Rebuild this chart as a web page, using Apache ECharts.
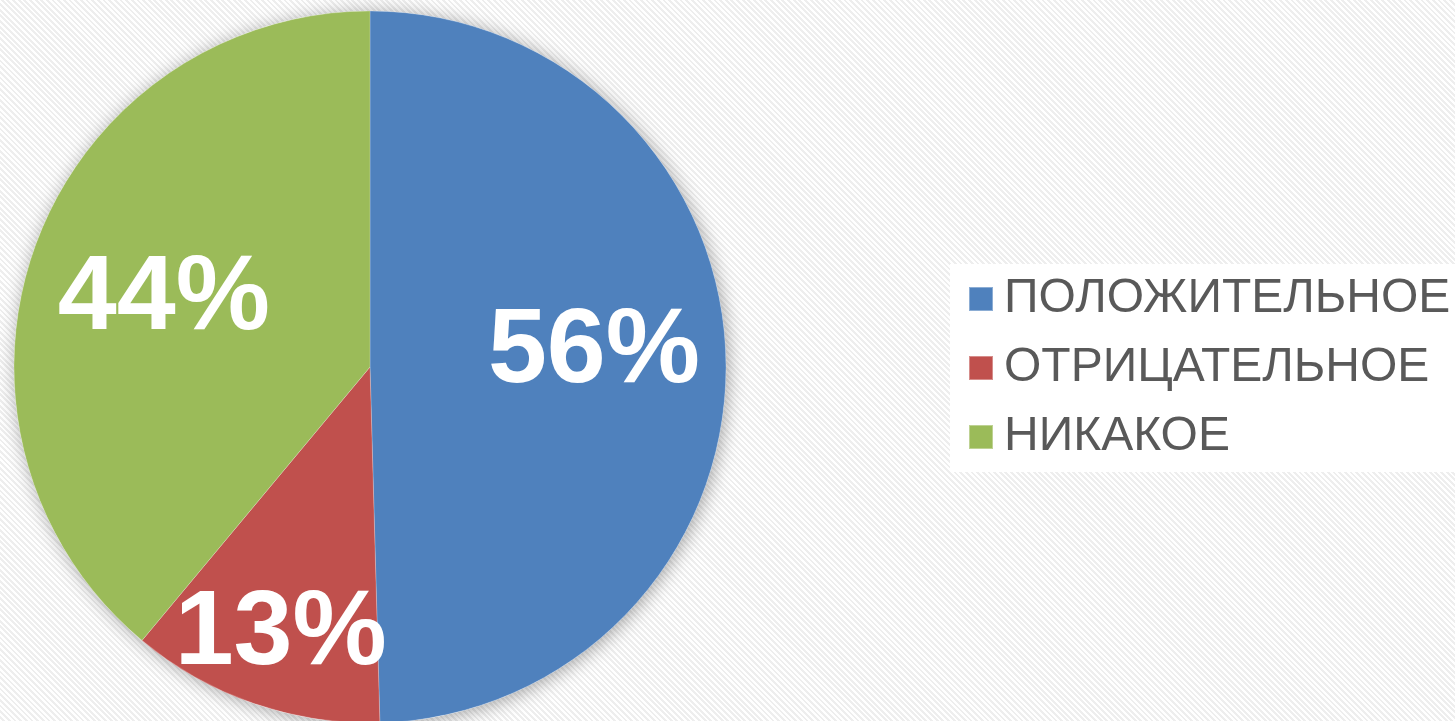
<!DOCTYPE html>
<html>
<head>
<meta charset="utf-8">
<script src="https://cdn.jsdelivr.net/npm/echarts@6/dist/echarts.min.js"></script>
<style>
  html, body { margin: 0; padding: 0; }
  body {
    width: 1455px; height: 721px; overflow: hidden;
    background: repeating-linear-gradient(45deg, #ffffff 0px, #ffffff 2px, #eeeeee 2px, #eeeeee 4px);
  }
  #chart { width: 1455px; height: 721px; }
</style>
</head>
<body>
<div id="chart"></div>
<script>
// Attitude survey: share of answers per category
const categories = ['ПОЛОЖИТЕЛЬНОЕ', 'ОТРИЦАТЕЛЬНОЕ', 'НИКАКОЕ'];
const values = [56, 13, 44];

const colors = ['#4F81BD', '#C0504D', '#9BBB59'];
// nudges for the in-slice labels
const labelNudge = [[43, -12], [-30, 97], [-36, -6]];

const chart = echarts.init(document.getElementById('chart'), null, { renderer: 'canvas' });

const pieCenter = [370, 367];
const pieRadius = 356;

chart.setOption({
  animation: false,
  backgroundColor: 'transparent',
  legend: {
    orient: 'vertical',
    left: 950,
    top: 264,
    padding: [11, 40, 11, 18],
    backgroundColor: '#ffffff',
    icon: 'rect',
    itemWidth: 24,
    itemHeight: 24,
    itemGap: 21,
    data: categories,
    textStyle: {
      fontFamily: 'Liberation Sans, Arial, sans-serif',
      fontSize: 48,
      lineHeight: 48,
      color: '#595959',
      padding: [0, 0, 0, 6]
    }
  },
  series: [
    {
      // soft drop shadow behind the pie
      type: 'pie',
      silent: true,
      center: pieCenter,
      radius: pieRadius,
      label: { show: false },
      labelLine: { show: false },
      itemStyle: {
        color: '#ffffff',
        shadowBlur: 18,
        shadowColor: 'rgba(0,0,0,0.35)',
        shadowOffsetX: 2,
        shadowOffsetY: 2
      },
      data: [{ name: '', value: 1 }],
      tooltip: { show: false }
    },
    {
      type: 'pie',
      center: pieCenter,
      radius: pieRadius,
      startAngle: 90,
      clockwise: true,
      itemStyle: { borderColor: 'rgba(255,255,255,0.35)', borderWidth: 0.6 },
      label: {
        show: true,
        position: 'inside',
        formatter: '{c}%',
        color: '#ffffff',
        fontFamily: 'Liberation Sans, Arial, sans-serif',
        fontWeight: 'bold',
        fontSize: 106
      },
      labelLine: { show: false },
      data: categories.map((name, i) => ({
        name: name,
        value: values[i],
        itemStyle: { color: colors[i] },
        label: { offset: labelNudge[i] }
      }))
    }
  ]
});
</script>
</body>
</html>
